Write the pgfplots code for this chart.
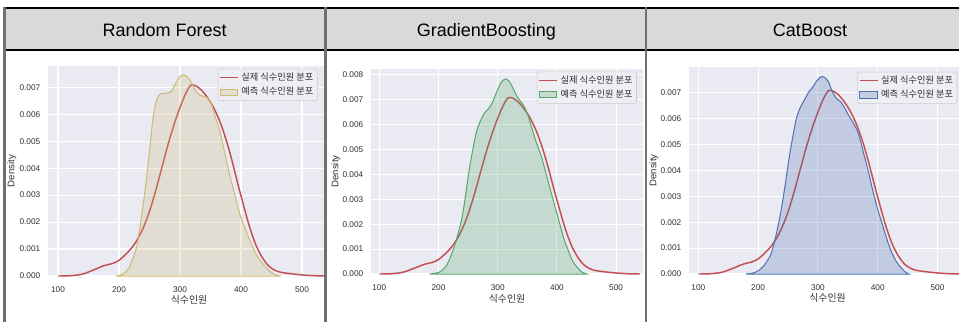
\documentclass[border=0pt]{standalone}
\usepackage{fontspec}
\setmainfont{Liberation Sans}
\newfontfamily\kr{Noto Sans CJK KR}
\usepackage{pgfplots}
\pgfplotsset{compat=1.18}
\usepackage{pgfplotstable}

\definecolor{sbred}{HTML}{C44E52}
\definecolor{sbtan}{HTML}{CCB974}
\definecolor{sbgreen}{HTML}{55A868}
\definecolor{sbblue}{HTML}{4C72B0}
\definecolor{bgc}{HTML}{EAEAF2}
\definecolor{legc}{HTML}{EEEEF4}
\definecolor{tickc}{HTML}{303030}
\definecolor{hdr}{HTML}{D9D9D9}
\definecolor{divc}{HTML}{707070}

\pgfplotstableread{
x y
100 0
120 0.00001
140 0.00007
160 0.00024
175 0.00038
190 0.00047
200 0.00058
210 0.00078
220 0.00102
230 0.00135
240 0.00180
250 0.00240
260 0.00315
270 0.00400
280 0.00485
290 0.00560
300 0.00625
310 0.00680
318 0.00708
326 0.00705
335 0.00690
345 0.00662
355 0.00625
365 0.00575
375 0.00510
385 0.00430
395 0.00340
405 0.00255
415 0.00175
425 0.00112
435 0.00068
445 0.00038
455 0.00022
465 0.00014
480 0.00009
500 0.00004
520 0.00001
540 0
}\actual

\pgfplotstableread{
x y
195 0
205 0.00005
215 0.00025
222 0.0006
229 0.0011
235 0.0019
240 0.0027
245 0.0036
250 0.0046
255 0.0057
260 0.0064
266 0.00672
273 0.00678
280 0.00678
286 0.00685
292 0.0071
298 0.00735
305 0.00746
312 0.00738
318 0.0072
325 0.0069
332 0.00672
340 0.00666
346 0.00660
352 0.00635
358 0.0059
366 0.0053
374 0.0045
382 0.0037
390 0.0030
398 0.0023
406 0.0018
415 0.0013
425 0.0008
435 0.00048
445 0.00022
455 0.00006
465 0
}\rf

\pgfplotstableread{
x y
185 0
195 0.00003
205 0.00012
215 0.0004
222 0.0008
228 0.0012
234 0.0017
240 0.0023
246 0.0032
252 0.0042
258 0.0050
264 0.0057
270 0.0061
276 0.0064
282 0.00658
288 0.00675
294 0.00705
300 0.0074
306 0.0077
313 0.00783
319 0.00775
325 0.0075
331 0.0072
337 0.00698
343 0.0068
350 0.00645
357 0.0059
365 0.0053
374 0.0047
382 0.0040
391 0.0032
398 0.0026
405 0.0020
412 0.0014
419 0.00096
427 0.0005
436 0.00022
442 0.00008
450 0
}\gb

\pgfplotstableread{
x y
180 0
190 0.00003
200 0.00012
208 0.00028
215 0.0005
222 0.0008
230 0.0015
238 0.0024
245 0.0034
252 0.0045
258 0.0053
264 0.0060
270 0.0064
277 0.0067
284 0.0070
291 0.0072
298 0.00745
304 0.0076
308 0.00762
313 0.00755
318 0.0074
323 0.0071
330 0.0068
338 0.00665
345 0.0064
352 0.0061
360 0.0058
368 0.0054
376 0.0047
384 0.0040
392 0.0032
400 0.0025
408 0.0019
416 0.0013
424 0.0008
432 0.00045
440 0.00022
446 0.00008
452 0
}\cb

\pgfplotsset{
  kde/.style={
    scale only axis,
    anchor=south west,
    axis background/.style={fill=bgc},
    axis line style={draw=none},
    major tick length=0pt,
    grid=major,
    major grid style={white, line width=0.85pt},
    xtick={100,200,300,400,500},
    ymin=0,
    scaled y ticks=false,
    tick label style={font=\fontsize{6.2}{7}\selectfont, text=tickc},
    /pgf/number format/assume math mode=true,
    yticklabel style={/pgf/number format/.cd, fixed, fixed zerofill, precision=3, /tikz/.cd, xshift=-2.3pt},
    xticklabel style={yshift=-4.3pt},
    xlabel={\kr 식수인원},
    ylabel={Density},
    xlabel style={anchor=center, font=\kr\fontsize{7.4}{8}\selectfont, text=tickc},
    ylabel style={anchor=center, font=\fontsize{7.2}{8}\selectfont, text=tickc},
    legend cell align=left,
    legend style={anchor=north west, font=\kr\fontsize{6.9}{7.5}\selectfont, fill=legc, draw=black!20, rounded corners=1.5pt, inner xsep=1pt, inner ysep=0.8pt, row sep=-0.4pt, text=tickc},
  },
  realline/.style={sbred, line width=1.1pt, smooth,
    legend image code/.code={\draw[sbred, line width=1.1pt] (0pt,0pt) -- (13.5pt,0pt);}},
  predfill/.style={draw=#1, fill=#1, fill opacity=0.25, draw opacity=1, line width=0.75pt, smooth,
    legend image code/.code={\draw[draw=#1, fill=#1, fill opacity=0.25, line width=0.75pt, sharp corners] (0pt,-2.3pt) rectangle (13pt,2.3pt);}},
}

\begin{document}
\begin{tikzpicture}
\useasboundingbox (0,0) rectangle (719.25pt,241.5pt);
\fill[white] (0,0) rectangle (719.25pt,241.5pt);
\fill[hdr] (3pt,204pt) rectangle (719.25pt,235.5pt);
\node[anchor=base, font=\fontsize{13.5}{16}\selectfont] at (123.4pt,213.75pt) {Random Forest};
\node[anchor=base, font=\fontsize{13.5}{16}\selectfont] at (364.8pt,213.75pt) {GradientBoosting};
\node[anchor=base, font=\fontsize{13.5}{16}\selectfont] at (607.5pt,213.75pt) {CatBoost};

% Panel 1
\begin{scope}
\clip (4pt,0pt) rectangle (243.75pt,204pt);
\begin{axis}[kde, at={(36pt,34.5pt)}, width=211.5pt, height=157.5pt,
  xmin=83.6, xmax=545.9, ymax=0.00779,
  ytick={0,0.001,0.002,0.003,0.004,0.005,0.006,0.007},
  xlabel style={at={(axis description cs:0.5,-0.111)}},
  ylabel style={at={(axis description cs:-0.1277,0.5)}},
  legend style={at={(rel axis cs:0.602,0.986)}}]
\addplot[realline] table {\actual};
\addlegendentry{실제 식수인원 분포}
\addplot[predfill=sbtan] table {\rf} \closedcycle;
\addlegendentry{예측 식수인원 분포}
\end{axis}
\end{scope}

% Panel 2
\begin{scope}
\clip (244.5pt,0pt) rectangle (484.5pt,204pt);
\begin{axis}[kde, at={(278.25pt,36pt)}, width=204pt, height=153.75pt,
  xmin=86.0, xmax=545.4, ymax=0.00823,
  ytick={0,0.001,0.002,0.003,0.004,0.005,0.006,0.007,0.008},
  xlabel style={at={(axis description cs:0.5,-0.123)}},
  ylabel style={at={(axis description cs:-0.1287,0.5)}},
  legend style={at={(rel axis cs:0.610,0.987)}}]
\addplot[realline] table {\actual};
\addlegendentry{실제 식수인원 분포}
\addplot[predfill=sbgreen] table {\gb} \closedcycle;
\addlegendentry{예측 식수인원 분포}
\end{axis}
\end{scope}

% Panel 3
\begin{scope}
\clip (485.25pt,0pt) rectangle (719.25pt,204pt);
\begin{axis}[kde, at={(516.75pt,36pt)}, width=207.75pt, height=155.25pt,
  xmin=84.4, xmax=547.7, ymax=0.00799,
  ytick={0,0.001,0.002,0.003,0.004,0.005,0.006,0.007},
  xlabel style={at={(axis description cs:0.5,-0.117)}},
  ylabel style={at={(axis description cs:-0.1264,0.5)}},
  legend style={at={(rel axis cs:0.608,0.977)}}]
\addplot[realline] table {\actual};
\addlegendentry{실제 식수인원 분포}
\addplot[predfill=sbblue] table {\cb} \closedcycle;
\addlegendentry{예측 식수인원 분포}
\end{axis}
\end{scope}

% table lines
\draw[black, line width=1pt] (3pt,235.5pt) -- (719.25pt,235.5pt);
\draw[black, line width=1.1pt] (3pt,204pt) -- (719.25pt,204pt);
\draw[divc, line width=1.8pt] (3.4pt,236pt) -- (3.4pt,0pt);
\draw[divc, line width=1.7pt] (244.1pt,236pt) -- (244.1pt,0pt);
\draw[divc, line width=1.7pt] (484.7pt,236pt) -- (484.7pt,0pt);
\end{tikzpicture}
\end{document}
